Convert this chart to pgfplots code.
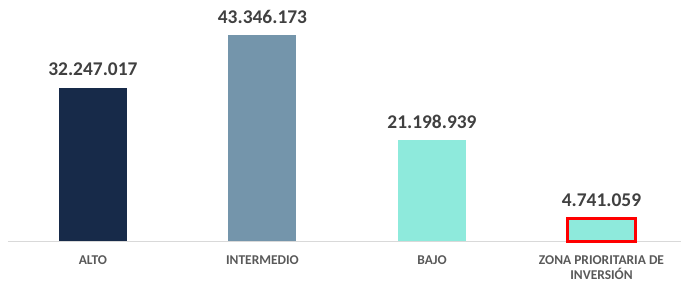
\documentclass[border=0pt]{standalone}
\usepackage{pgfplots}
\pgfplotsset{compat=1.18}
\usepackage{fontspec}
\setmainfont{Carlito}
\definecolor{navy}{HTML}{172A49}
\definecolor{steel}{HTML}{7495AB}
\definecolor{aqua}{HTML}{8EEADC}
\definecolor{valtxt}{HTML}{404040}
\definecolor{cattxt}{HTML}{595959}
\definecolor{axgray}{HTML}{D9D9D9}
\begin{document}
\begin{tikzpicture}
\begin{axis}[
  scale only axis,
  width=673bp, height=237.6bp,
  xmin=-0.501, xmax=3.469,
  ymin=0, ymax=50000000,
  axis x line=bottom,
  axis y line=none,
  axis line style={axgray, line width=0.8bp, -},
  xtick={0,1,2,3},
  xticklabels={ALTO, INTERMEDIO, BAJO, {ZONA PRIORITARIA DE\\INVERSIÓN}},
  major tick length=0pt,
  xticklabel style={font=\fontsize{13.5}{16}\selectfont\bfseries, text=cattxt, align=center, inner sep=0pt, anchor=north, yshift=-14bp},
  ybar,
  bar width=68bp,
  bar shift=0pt,
  point meta=explicit symbolic,
  nodes near coords,
  every node near coord/.append style={font=\fontsize{19.5}{22}\selectfont\bfseries, text=valtxt, anchor=base, inner sep=0pt, yshift=12bp},
  clip=false,
]
\addplot[fill=navy, draw=none] coordinates {(0,32247017) [32.247.017]};
\addplot[fill=steel, draw=none] coordinates {(1,43346173) [43.346.173]};
\addplot[fill=aqua, draw=none] coordinates {(2,21198939) [21.198.939]};
\addplot[fill=aqua, draw=red, line width=3bp] coordinates {(3,4741059) [4.741.059]};
\end{axis}
\pgfresetboundingbox
\path[use as bounding box] (current axis.south west) ++(-8bp,-43bp) rectangle ([shift={(0bp,3.4bp)}]current axis.north east);
\end{tikzpicture}
\end{document}
